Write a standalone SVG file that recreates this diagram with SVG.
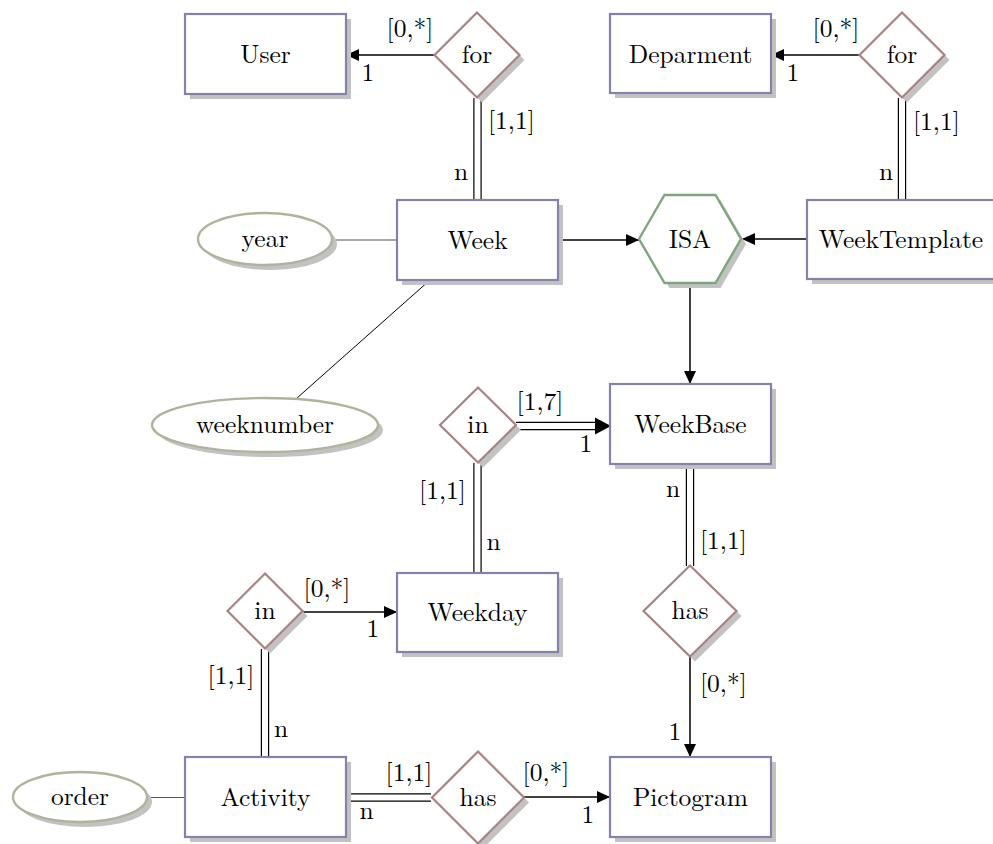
<svg xmlns="http://www.w3.org/2000/svg" width="993" height="844" viewBox="0 0 993 844">
<defs>
<marker id="arr" markerUnits="userSpaceOnUse" markerWidth="14" markerHeight="12" refX="13" refY="6" orient="auto">
<path d="M0,0 L13,6 L0,12 z" fill="#000"/>
</marker>
</defs>
<style>
text{font-family:'Latin Modern Roman','DejaVu Serif',serif;font-size:25.5px;fill:#000}
.c{text-anchor:middle}
.s{text-anchor:start}
.ent{fill:#fff;stroke:#8282ab;stroke-width:2.2}
.rel{fill:#fff;stroke:#a88282;stroke-width:2.2}
.isa{fill:#fff;stroke:#7ea67e;stroke-width:2.4}
.att{fill:#fff;stroke:#b2b29c;stroke-width:2.4}
.sh{fill:#c2c2c2;stroke:none}
.ln{stroke:#000;stroke-width:1.5;fill:none}
.thin{stroke:#000;stroke-width:1;fill:none}
.dblo{stroke:#000;stroke-width:8.4;fill:none}
.dbli{stroke:#fff;stroke-width:6;fill:none}
</style>
<rect width="993" height="844" fill="#fff"/>
<g id="connectors">
<line class="ln" x1="434.5" y1="55" x2="346" y2="55" marker-end="url(#arr)"/>
<line class="ln" x1="859.5" y1="55" x2="771" y2="55" marker-end="url(#arr)"/>
<line class="ln" x1="558" y1="240" x2="639" y2="240" marker-end="url(#arr)"/>
<line class="ln" x1="807" y1="239" x2="742" y2="239" marker-end="url(#arr)"/>
<line class="ln" x1="690" y1="283" x2="690" y2="384" marker-end="url(#arr)"/>
<line class="ln" x1="303" y1="612" x2="397" y2="612" marker-end="url(#arr)"/>
<line class="ln" x1="690" y1="657" x2="690" y2="757" marker-end="url(#arr)"/>
<line class="ln" x1="524" y1="797" x2="610" y2="797" marker-end="url(#arr)"/>
<line x1="333" y1="240" x2="397" y2="240" stroke="#555" stroke-width="1.1"/>
<line class="thin" x1="430" y1="280" x2="297" y2="398"/>
<line x1="147" y1="797.5" x2="185" y2="797.5" stroke="#555" stroke-width="1.1"/>
<g>
<path class="dblo" d="M477.5,98 V200 M902,98 V200 M477.5,463 V573 M690,464 V566 M265,649 V757 M346,797.5 H431 M516,426 H600"/>
<path class="dbli" d="M477.5,97 V201 M902,97 V201 M477.5,462 V574 M690,463 V567 M265,648 V758 M345,797.5 H432 M515,426 H601"/>
<path d="M595,417.5 L611,426 L595,434.5 z" fill="#000"/>
</g>
</g>
<g id="user"><rect class="sh" x="190" y="19" width="161" height="80"/><rect class="ent" x="185" y="14" width="161" height="80"/><text class="c" x="265.5" y="63">User</text></g>
<g id="for1"><polygon class="sh" points="439.5,60 482,17.5 524.5,60 482,102.5"/><polygon class="rel" points="434.5,55 477,12.5 519.5,55 477,97.5"/><text class="c" x="477" y="63">for</text></g>
<g id="department"><rect class="sh" x="615" y="19" width="161" height="79"/><rect class="ent" x="610" y="14" width="161" height="79"/><text class="c" x="690.5" y="63">Deparment</text></g>
<g id="for2"><polygon class="sh" points="864.5,60 907,17.5 949.5,60 907,102.5"/><polygon class="rel" points="859.5,55 902,12.5 944.5,55 902,97.5"/><text class="c" x="902" y="63">for</text></g>
<g id="week"><rect class="sh" x="402" y="205" width="161" height="80"/><rect class="ent" x="397" y="200" width="161" height="80"/><text class="c" x="477.5" y="249">Week</text></g>
<g id="year"><ellipse class="sh" cx="270" cy="244" rx="67" ry="26"/><ellipse class="att" cx="265" cy="239" rx="67" ry="26"/><text class="c" x="265" y="247">year</text></g>
<g id="weeknumber"><ellipse class="sh" cx="270" cy="430" rx="113" ry="27"/><ellipse class="att" cx="265" cy="425" rx="113" ry="27"/><text class="c" x="265" y="433">weeknumber</text></g>
<g id="isa"><polygon class="sh" points="644,244 669.5,200 720.5,200 746,244 720.5,288 669.5,288"/><polygon class="isa" points="639,239 664.5,195 715.5,195 741,239 715.5,283 664.5,283"/><text class="c" x="690" y="248">ISA</text></g>
<g id="weektemplate"><rect class="sh" x="812" y="205" width="190" height="79"/><rect class="ent" x="807" y="200" width="190" height="79"/><text class="c" x="901" y="248">WeekTemplate</text></g>
<g id="weekbase"><rect class="sh" x="615" y="389" width="161" height="80"/><rect class="ent" x="610" y="384" width="161" height="80"/><text class="c" x="690.5" y="433">WeekBase</text></g>
<g id="in1"><polygon class="sh" points="445,430 483,392.5 521,430 483,467.5"/><polygon class="rel" points="440,425 478,387.5 516,425 478,462.5"/><text class="c" x="478" y="433">in</text></g>
<g id="weekday"><rect class="sh" x="402" y="578" width="161" height="79"/><rect class="ent" x="397" y="573" width="161" height="79"/><text class="c" x="477.5" y="621">Weekday</text></g>
<g id="in2"><polygon class="sh" points="232.5,616 270,578.5 307.5,616 270,653.5"/><polygon class="rel" points="227.5,611 265,573.5 302.5,611 265,648.5"/><text class="c" x="265" y="619">in</text></g>
<g id="has1"><polygon class="sh" points="648.5,616 695,570.5 741.5,616 695,661.5"/><polygon class="rel" points="643.5,611 690,565.5 736.5,611 690,656.5"/><text class="c" x="690" y="619">has</text></g>
<g id="activity"><rect class="sh" x="190" y="762" width="161" height="80"/><rect class="ent" x="185" y="757" width="161" height="80"/><text class="c" x="265.5" y="806">Activity</text></g>
<g id="order"><ellipse class="sh" cx="85" cy="802" rx="67" ry="25"/><ellipse class="att" cx="80" cy="797" rx="67" ry="25"/><text class="c" x="80" y="805">order</text></g>
<g id="has2"><polygon class="sh" points="437,802.5 483,756.5 529,802.5 483,848.5"/><polygon class="rel" points="432,797.5 478,751.5 524,797.5 478,843.5"/><text class="c" x="478" y="806">has</text></g>
<g id="pictogram"><rect class="sh" x="615" y="762" width="161" height="80"/><rect class="ent" x="610" y="757" width="161" height="80"/><text class="c" x="690.5" y="806">Pictogram</text></g>
<g id="labels">
<text class="c" x="410" y="37">[0,*]</text>
<text class="c" x="368" y="81">1</text>
<text class="s" x="488" y="129">[1,1]</text>
<text class="c" x="461" y="180">n</text>
<text class="c" x="836" y="37">[0,*]</text>
<text class="c" x="793" y="81">1</text>
<text class="s" x="913" y="130">[1,1]</text>
<text class="c" x="886" y="180">n</text>
<text class="c" x="540" y="410">[1,7]</text>
<text class="c" x="586" y="452">1</text>
<text class="c" x="442.5" y="499">[1,1]</text>
<text class="c" x="493.5" y="550">n</text>
<text class="c" x="673" y="497">n</text>
<text class="s" x="700" y="549">[1,1]</text>
<text class="c" x="327" y="597">[0,*]</text>
<text class="c" x="373" y="637">1</text>
<text class="c" x="231" y="684">[1,1]</text>
<text class="c" x="281" y="737">n</text>
<text class="s" x="700" y="692">[0,*]</text>
<text class="c" x="675" y="740">1</text>
<text class="c" x="409" y="781">[1,1]</text>
<text class="c" x="366.5" y="819">n</text>
<text class="c" x="546" y="781">[0,*]</text>
<text class="c" x="588" y="823">1</text>
</g>
</svg>
